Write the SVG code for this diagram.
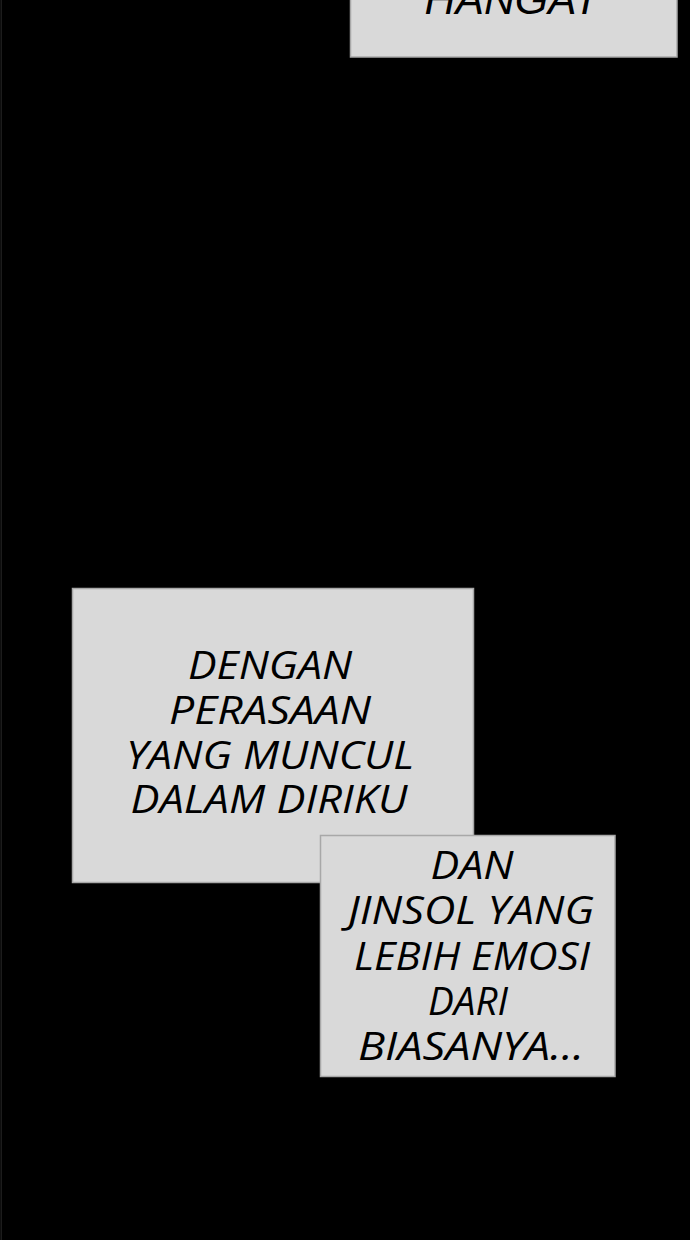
<svg xmlns="http://www.w3.org/2000/svg" width="690" height="1240" viewBox="0 0 690 1240">
<style>
.box{fill:#d9d9d9;stroke:#a8a8a8;stroke-width:1.5}
.t{font-family:"Open Sans","Noto Sans",sans-serif;font-style:italic;font-size:38px;fill:#000;text-anchor:middle}
.h{font-family:"Liberation Sans",Arial,sans-serif;font-style:italic;font-size:42px;fill:#000;text-anchor:middle}
</style>
<rect x="0" y="0" width="690" height="1240" fill="#000"/>
<rect x="0.5" y="0" width="1.5" height="1240" fill="#1c1c1c"/>
<g id="box-top">
<rect class="box" x="350.5" y="-10" width="326.5" height="67"/>
<text class="h" x="512" y="14" textLength="175" lengthAdjust="spacingAndGlyphs">HANGAT</text>
</g>
<g id="box-1">
<rect class="box" x="72.5" y="588.5" width="401" height="294"/>
<text class="t" x="270" y="679" textLength="164" lengthAdjust="spacingAndGlyphs">DENGAN</text>
<text class="t" x="270" y="724" textLength="202" lengthAdjust="spacingAndGlyphs">PERASAAN</text>
<text class="t" x="270" y="769" textLength="288" lengthAdjust="spacingAndGlyphs">YANG MUNCUL</text>
<text class="t" x="269" y="813" textLength="277" lengthAdjust="spacingAndGlyphs">DALAM DIRIKU</text>
</g>
<g id="box-2">
<rect class="box" x="320.5" y="835.5" width="294.5" height="241"/>
<text class="t" x="472" y="879" textLength="83" lengthAdjust="spacingAndGlyphs">DAN</text>
<text class="t" x="471" y="924" textLength="246" lengthAdjust="spacingAndGlyphs">JINSOL YANG</text>
<text class="t" x="472" y="970" textLength="236" lengthAdjust="spacingAndGlyphs">LEBIH EMOSI</text>
<text class="t" x="468" y="1015" textLength="80" lengthAdjust="spacingAndGlyphs">DARI</text>
<text class="t" x="471" y="1060" textLength="226" lengthAdjust="spacingAndGlyphs">BIASANYA...</text>
</g>
</svg>
